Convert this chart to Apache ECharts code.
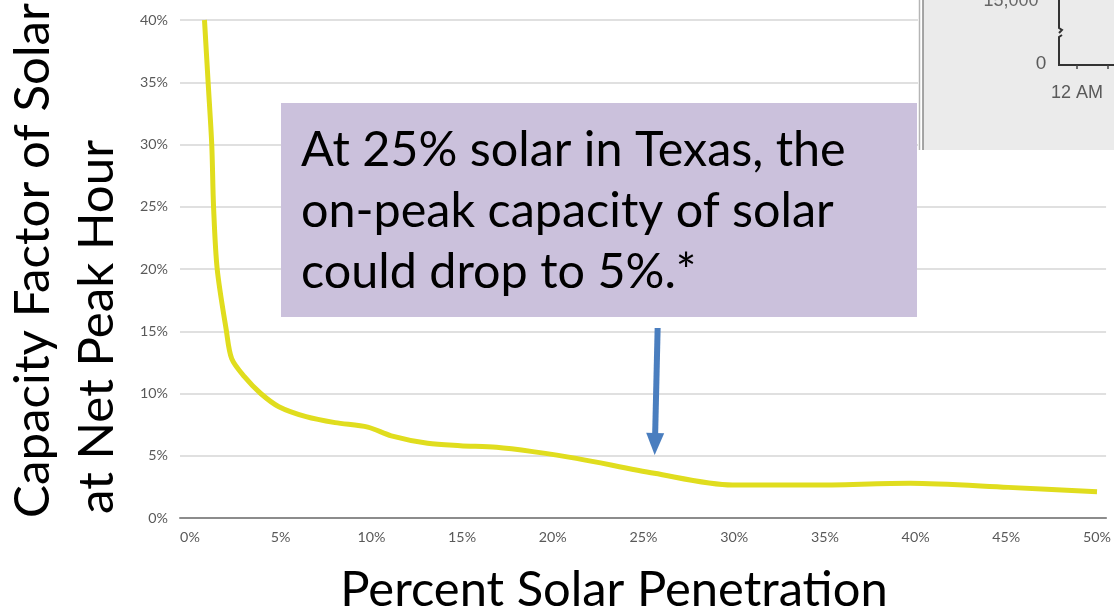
<!DOCTYPE html>
<html>
<head>
<meta charset="utf-8">
<script src="https://cdn.jsdelivr.net/npm/echarts@6/dist/echarts.min.js"></script>
<style>
html,body{margin:0;padding:0;background:#fff;}
#c{width:1114px;height:610px;}
</style>
</head>
<body>
<div id="c"></div>
<script>
// ---- data ----
const penetration = [0.8, 1.0, 1.2, 1.3, 1.5, 2.0, 2.3, 3.0, 3.9, 4.9, 6.4, 8.0, 9.8, 11.1, 13.1, 14.9, 16.9, 18.9, 21.3, 25.6, 29.9, 34.3, 39.7, 45.1, 50.0];
const capacityFactor = [40, 35, 30, 25, 20, 15.1, 12.8, 11.35, 10.0, 8.94, 8.14, 7.66, 7.3, 6.6, 6.0, 5.81, 5.68, 5.33, 4.79, 3.59, 2.65, 2.65, 2.79, 2.46, 2.11];
const xTickValues = [0, 5, 10, 15, 20, 25, 30, 35, 40, 45, 50];
const yTickValues = [0, 5, 10, 15, 20, 25, 30, 35, 40];
const yTitleLines = ['Capacity Factor of Solar', 'at Net Peak Hour'];
const xTitle = 'Percent Solar Penetration';
const calloutLines = ['At 25% solar in Texas, the', 'on-peak capacity of solar', 'could drop to 5%.*'];
const arrowFrom = [25.78, 15.26];
const arrowTo = [25.63, 5.94];
const insetTexts = ['15,000', '0', '12 AM'];

// ---- helpers ----
const mctx = document.createElement('canvas').getContext('2d');
function fit(text, family, width) {
  mctx.font = '100px ' + family;
  return 100 * width / mctx.measureText(text).width;
}
const FAM = 'Lato';
const tickSize = fit('40%', FAM, 28);
const yTitleSize = fit(yTitleLines[0], FAM, 515);
const xTitleSize = fit(xTitle, FAM, 548);
const boxSize = fit(calloutLines[0], FAM, 545);

const chart = echarts.init(document.getElementById('c'), null, {renderer: 'canvas'});

const graphics = [
  // y axis title (two rotated lines)
  {type: 'text', x: 33, y: 518, rotation: Math.PI / 2, z: 10,
   style: {text: yTitleLines[0], font: yTitleSize.toFixed(1) + 'px ' + FAM, fill: '#000', align: 'left', verticalAlign: 'middle'}},
  {type: 'text', x: 97, y: 514, rotation: Math.PI / 2, z: 10,
   style: {text: yTitleLines[1], font: yTitleSize.toFixed(1) + 'px ' + FAM, fill: '#000', align: 'left', verticalAlign: 'middle'}},
  // x axis title
  {type: 'text', x: 614, y: 590, z: 10,
   style: {text: xTitle, font: xTitleSize.toFixed(1) + 'px ' + FAM, fill: '#000', align: 'center', verticalAlign: 'middle'}},
  // callout box
  {type: 'rect', shape: {x: 281, y: 103, width: 636, height: 214}, z: 10,
   style: {fill: '#CBC1DC'}},
  {type: 'text', x: 301, y: 150, z: 11,
   style: {text: calloutLines[0], font: boxSize.toFixed(1) + 'px ' + FAM, fill: '#000', align: 'left', verticalAlign: 'middle'}},
  {type: 'text', x: 301, y: 211, z: 11,
   style: {text: calloutLines[1], font: boxSize.toFixed(1) + 'px ' + FAM, fill: '#000', align: 'left', verticalAlign: 'middle'}},
  {type: 'text', x: 301, y: 272, z: 11,
   style: {text: calloutLines[2], font: boxSize.toFixed(1) + 'px ' + FAM, fill: '#000', align: 'left', verticalAlign: 'middle'}},
  // inset picture (top right)
  {type: 'rect', shape: {x: 918, y: 0, width: 196, height: 150}, z: 20, style: {fill: '#ffffff'}},
  {type: 'rect', shape: {x: 923, y: 0, width: 191, height: 150}, z: 20, style: {fill: '#ebebeb'}},
  {type: 'line', shape: {x1: 919.5, y1: 0, x2: 919.5, y2: 150}, z: 21, style: {stroke: '#b5b5b5', lineWidth: 1.5}},
  {type: 'line', shape: {x1: 923, y1: 0, x2: 923, y2: 150}, z: 21, style: {stroke: '#8a8a8a', lineWidth: 1.5}},
  {type: 'text', x: 1011, y: 1, z: 22,
   style: {text: insetTexts[0], font: '18px "Liberation Sans Narrow", "Liberation Sans"', fill: '#666', align: 'center', verticalAlign: 'middle'}},
  {type: 'text', x: 1041, y: 64, z: 22,
   style: {text: insetTexts[1], font: '19px "Liberation Sans"', fill: '#5a5a5a', align: 'center', verticalAlign: 'middle'}},
  {type: 'text', x: 1077, y: 93, z: 22,
   style: {text: insetTexts[2], font: '18px "Liberation Sans"', fill: '#5a5a5a', align: 'center', verticalAlign: 'middle'}},
  {type: 'polyline', shape: {points: [[1059, 0], [1059, 28], [1062, 30], [1059, 33]]}, z: 22, style: {stroke: '#333', lineWidth: 2, fill: null}},
  {type: 'polyline', shape: {points: [[1062, 35], [1059, 37], [1059, 65], [1114, 65]]}, z: 22, style: {stroke: '#333', lineWidth: 2, fill: null}},
  {type: 'line', shape: {x1: 1077, y1: 65, x2: 1077, y2: 69}, z: 22, style: {stroke: '#444', lineWidth: 1.5}},
  {type: 'line', shape: {x1: 1108, y1: 65, x2: 1108, y2: 69}, z: 22, style: {stroke: '#444', lineWidth: 1.5}}
];

const option = {
  animation: false,
  backgroundColor: '#ffffff',
  grid: {left: 180, right: 0, top: 20, bottom: 92, containLabel: false},
  xAxis: {
    type: 'value', min: -0.55, max: 50.5,
    axisLine: {show: true, lineStyle: {color: '#8c8c8c', width: 2}},
    axisTick: {show: false},
    splitLine: {show: false},
    axisLabel: {
      customValues: xTickValues, margin: 12,
      formatter: v => v + '%', color: '#595959',
      fontFamily: FAM, fontSize: tickSize
    }
  },
  yAxis: {
    type: 'value', min: 0, max: 40, interval: 5,
    axisLine: {show: false}, axisTick: {show: false},
    splitLine: {show: true, lineStyle: {color: '#d6d6d6', width: 1.5}},
    axisLabel: {
      customValues: yTickValues, margin: 12,
      formatter: v => v + '%', color: '#595959',
      fontFamily: FAM, fontSize: tickSize
    }
  },
  series: [{
    type: 'line',
    data: penetration.map((x, i) => [x, capacityFactor[i]]),
    smooth: 0.3,
    showSymbol: false,
    lineStyle: {color: '#E0DD1E', width: 5},
    z: 3,
    markLine: {
      silent: true,
      symbol: ['none', 'triangle'],
      symbolSize: [18, 22],
      label: {show: false},
      lineStyle: {color: '#4A7EBF', width: 6, type: 'solid'},
      itemStyle: {color: '#4A7EBF'},
      emphasis: {disabled: true},
      data: [[{coord: arrowFrom}, {coord: arrowTo}]]
    }
  }],
  graphic: graphics
};
chart.setOption(option);
</script>
</body>
</html>
